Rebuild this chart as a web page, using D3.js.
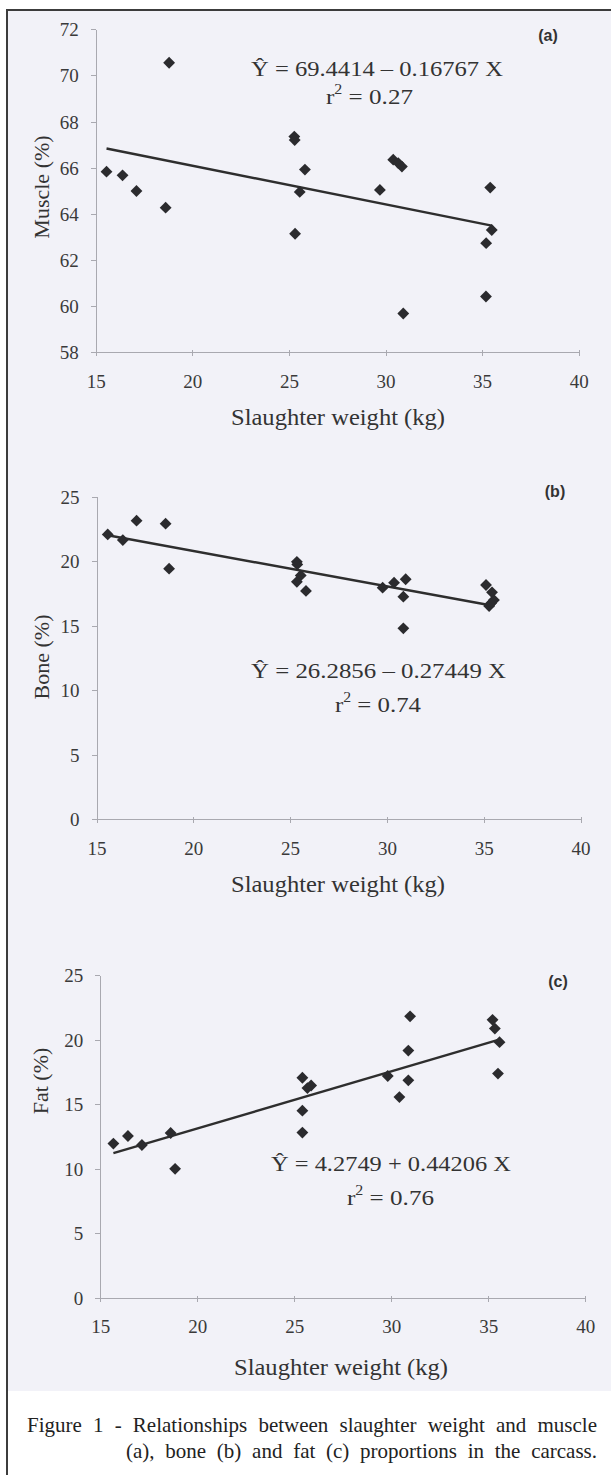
<!DOCTYPE html>
<html>
<head>
<meta charset="utf-8">
<script src="https://cdn.jsdelivr.net/npm/d3@7"></script>
<style>
  body { margin: 0; background: #fff; }
  svg { display: block; }
  .axis path, .axis line { stroke: #a9a9b0; stroke-width: 1; shape-rendering: crispEdges; }
  .axis text { font-family: "Liberation Serif", serif; font-size: 19px; fill: #3a3a3a; }
</style>
</head>
<body>
<script>
// ---- data ----
const weightTicks = [15, 20, 25, 30, 35, 40];
const muscleTicks = [58, 60, 62, 64, 66, 68, 70, 72];
const boneTicks = [0, 5, 10, 15, 20, 25];
const fatTicks = [0, 5, 10, 15, 20, 25];

// (a) muscle
const muscleX = [15.56, 16.39, 17.11, 18.62, 18.80, 25.28, 25.30, 25.32, 25.56, 25.83,
                 29.71, 30.40, 30.66, 30.85, 30.92, 35.20, 35.21, 35.42, 35.50];
const muscleY = [65.83, 65.67, 64.99, 64.27, 70.55, 67.35, 67.20, 63.14, 64.95, 65.92,
                 65.04, 66.35, 66.20, 66.05, 59.68, 60.42, 62.73, 65.14, 63.30];

// (b) bone
const boneX = [15.58, 16.36, 17.07, 18.57, 18.75, 25.35, 25.37, 25.55, 25.35, 25.82,
               29.78, 30.37, 30.97, 30.85, 30.85, 35.12, 35.43, 35.53, 35.28, 35.38];
const boneY = [22.08, 21.64, 23.14, 22.91, 19.42, 19.95, 19.75, 18.90, 18.40, 17.70,
               17.95, 18.34, 18.60, 17.25, 14.80, 18.16, 17.59, 16.99, 16.53, 16.75];

// (c) fat
const fatX = [15.68, 16.43, 17.15, 18.63, 18.86, 25.42, 25.68, 25.87, 25.42, 25.42,
              29.82, 30.42, 30.88, 30.88, 30.97, 35.22, 35.34, 35.58, 35.50];
const fatY = [11.95, 12.54, 11.84, 12.77, 10.00, 17.05, 16.25, 16.45, 14.50, 12.80,
              17.18, 15.55, 16.85, 19.15, 21.80, 21.53, 20.85, 19.80, 17.37];

// fitted lines (intercept, slope) and the x span they are drawn over
const muscleFit = [69.4414, -0.16767], muscleFitSpan = [15.56, 35.5];
const boneFit = [26.2856, -0.27449], boneFitSpan = [15.58, 35.55];
const fatFit = [4.2749, 0.44206], fatFitSpan = [15.68, 35.6];

const eqText = ["\u0176 = 69.4414 \u2013 0.16767 X", "\u0176 = 26.2856 \u2013 0.27449 X", "\u0176 = 4.2749 + 0.44206 X"];
const r2Text = ["0.27", "0.74", "0.76"];
const yLabels = ["Muscle (%)", "Bone (%)", "Fat (%)"];
const panelTags = ["(a)", "(b)", "(c)"];
const xLabel = "Slaughter weight (kg)";
const captionLines = ["Figure 1 - Relationships between slaughter weight and muscle",
                      "(a), bone (b) and fat (c) proportions in the carcass."];

// ---- page layout ----
const W = 611, H = 1475;
const svg = d3.select("body").append("svg").attr("width", W).attr("height", H);

svg.append("rect").attr("x", 7).attr("y", 10).attr("width", W).attr("height", 1381)
    .attr("fill", "#f2f2f8");
svg.append("line").attr("x1", 7).attr("x2", 7).attr("y1", 10).attr("y2", H)
    .attr("stroke", "#3c3c3c").attr("stroke-width", 2);
svg.append("line").attr("x1", 6).attr("x2", W).attr("y1", 10).attr("y2", 10)
    .attr("stroke", "#3c3c3c").attr("stroke-width", 2);

const panels = [
    {xs: muscleX, ys: muscleY, yTicks: muscleTicks, yDomain: [58, 72], fit: muscleFit, span: muscleFitSpan,
     box: {left: 95.7, right: 578.7, top: 29.3, bottom: 352.3},
     eq: {x: 251, y: 76, w: 252, rx: 326, ry: 104, rw: 87},
     tag: {x: 548, y: 41}, yLab: {x: 41, y: 187}, xLab: {x: 231, y: 425}},
    {xs: boneX, ys: boneY, yTicks: boneTicks, yDomain: [0, 25], fit: boneFit, span: boneFitSpan,
     box: {left: 96.5, right: 580.5, top: 496.7, bottom: 819.3},
     eq: {x: 251, y: 678, w: 255, rx: 335, ry: 712, rw: 86},
     tag: {x: 555, y: 497}, yLab: {x: 41, y: 657}, xLab: {x: 231, y: 892}},
    {xs: fatX, ys: fatY, yTicks: fatTicks, yDomain: [0, 25], fit: fatFit, span: fatFitSpan,
     box: {left: 100.2, right: 585.3, top: 975, bottom: 1298},
     eq: {x: 271, y: 1171, w: 240, rx: 347, ry: 1205, rw: 87},
     tag: {x: 558, y: 987}, yLab: {x: 40, y: 1081}, xLab: {x: 234, y: 1375}}
];

const diamond = d3.symbol().type(d3.symbolSquare).size(70);

panels.forEach((p, i) => {
    let g = svg.append("g");

    let x = d3.scaleLinear().domain([15, 40]).range([p.box.left, p.box.right]);
    let y = d3.scaleLinear().domain(p.yDomain).range([p.box.bottom, p.box.top]);

    // axes
    let yAxis = d3.axisLeft(y).tickValues(p.yTicks).tickSize(5).tickSizeOuter(0).tickPadding(12);
    g.append("g").attr("class", "axis")
        .attr("transform", `translate(${p.box.left},0)`)
        .call(yAxis)
        .call(a => a.selectAll("text").attr("dy", "0.34em"));

    let xAxis = d3.axisBottom(x).tickValues(weightTicks).tickSize(4).tickSizeOuter(0).tickPadding(18);
    g.append("g").attr("class", "axis")
        .attr("transform", `translate(0,${p.box.bottom})`)
        .call(xAxis)
        .call(a => a.selectAll(".tick line").attr("y1", -2))
        .call(a => a.selectAll("text").attr("dy", "0.71em"));

    // regression line
    g.append("line")
        .attr("x1", x(p.span[0])).attr("y1", y(p.fit[0] + p.fit[1] * p.span[0]))
        .attr("x2", x(p.span[1])).attr("y2", y(p.fit[0] + p.fit[1] * p.span[1]))
        .attr("stroke", "#2e2e2e").attr("stroke-width", 2.4);

    // points
    g.selectAll("path.pt")
        .data(p.xs.map((d, k) => [d, p.ys[k]]))
        .join("path")
        .attr("class", "pt")
        .attr("d", diamond)
        .attr("transform", d => `translate(${x(d[0])},${y(d[1])}) rotate(45)`)
        .attr("fill", "#2b2b2e");

    // axis titles
    g.append("text")
        .attr("transform", `translate(${p.yLab.x},${p.yLab.y}) rotate(-90)`)
        .attr("text-anchor", "middle").attr("dy", "0.35em")
        .attr("font-family", "Liberation Serif").attr("font-size", 22).attr("fill", "#333")
        .text(yLabels[i]);

    g.append("text")
        .attr("x", p.xLab.x).attr("y", p.xLab.y)
        .attr("textLength", 214).attr("lengthAdjust", "spacingAndGlyphs")
        .attr("font-family", "Liberation Serif").attr("font-size", 23).attr("fill", "#333")
        .text(xLabel);

    // panel tag
    g.append("text")
        .attr("x", p.tag.x).attr("y", p.tag.y)
        .attr("text-anchor", "middle")
        .attr("font-family", "Liberation Sans").attr("font-weight", "bold")
        .attr("font-size", 16).attr("fill", "#333")
        .text(panelTags[i]);

    // equation
    g.append("text")
        .attr("x", p.eq.x).attr("y", p.eq.y)
        .attr("textLength", p.eq.w).attr("lengthAdjust", "spacingAndGlyphs")
        .attr("font-family", "Liberation Serif").attr("font-size", 22).attr("fill", "#333")
        .text(eqText[i]);

    let r2 = g.append("text")
        .attr("x", p.eq.rx).attr("y", p.eq.ry)
        .attr("textLength", p.eq.rw).attr("lengthAdjust", "spacingAndGlyphs")
        .attr("font-family", "Liberation Serif").attr("font-size", 22).attr("fill", "#333");
    r2.append("tspan").text("r");
    r2.append("tspan").attr("dy", -10).attr("font-size", 14).text("2");
    r2.append("tspan").attr("dy", 10).text(" = " + r2Text[i]);
});

// caption, justified like the printed figure
const capFont = 21;
function justify(line, x0, x1, baseline) {
    let words = line.split(" ");
    let tmp = svg.append("text").attr("font-family", "Liberation Serif").attr("font-size", capFont);
    let widths = words.map(w => { tmp.text(w); return tmp.node().getComputedTextLength(); });
    tmp.remove();
    let gap = (x1 - x0 - d3.sum(widths)) / (words.length - 1);
    let cx = x0;
    words.forEach((w, k) => {
        svg.append("text")
            .attr("x", cx).attr("y", baseline)
            .attr("font-family", "Liberation Serif").attr("font-size", capFont).attr("fill", "#222")
            .text(w);
        cx += widths[k] + gap;
    });
}
justify(captionLines[0], 27, 597, 1432);
justify(captionLines[1], 126, 597, 1458);
</script>
</body>
</html>
